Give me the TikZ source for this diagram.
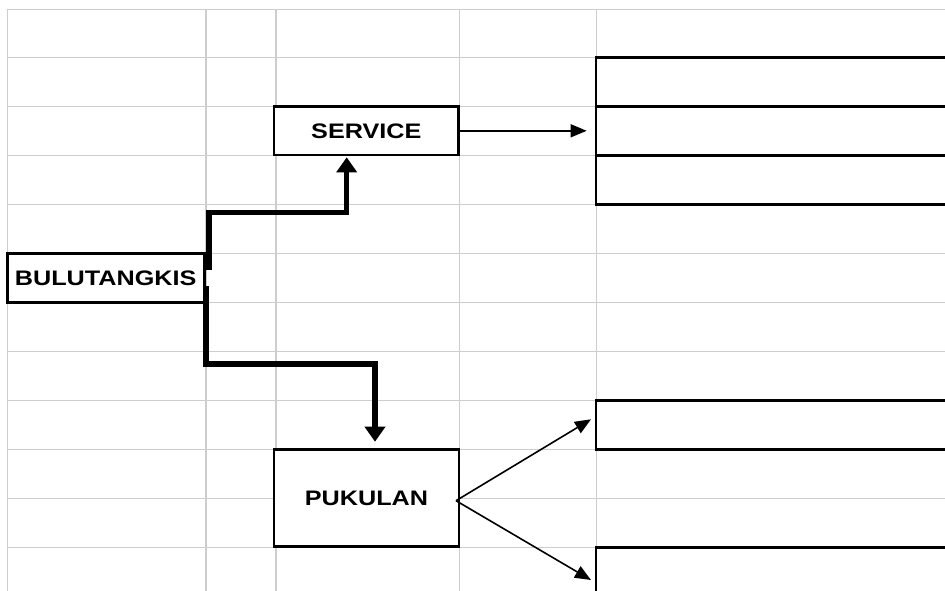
\documentclass[tikz,border=0pt]{standalone}
\usepackage{fontspec}
\setmainfont{Liberation Sans}
\usetikzlibrary{arrows.meta}
\definecolor{gridgray}{RGB}{205,205,205}
\tikzset{
  gridline/.style={draw=gridgray, line width=1.4pt},
  cellbox/.style={draw=black, line width=2.7pt, fill=white, inner sep=0pt, font=\fontsize{21}{24}\selectfont\bfseries},
  bigconn/.style={draw=black, line width=5.5pt, -{Triangle[width=20pt,length=15pt]}},
  thinconn/.style={draw=black, line width=1.6pt, -{Triangle[width=13pt,length=16pt]}}
}
\newcommand{\wideText}[1]{\scalebox{1.2}[1]{#1}}
\begin{document}
\begin{tikzpicture}[x=1pt,y=-1pt]
\useasboundingbox (0,0) rectangle (945,590);
\clip (0,0) rectangle (945,590);
\fill[white] (0,0) rectangle (945,590);
% grid
\foreach \yy in {9.3,57.3,106.4,155.4,204.4,253.4,302.4,351.6,400.6,449.4,498.3,547.3}
  \draw[gridline] (7.3,\yy) -- (950,\yy);
\foreach \xx in {7.3,206,276,459.5,596.5}
  \draw[gridline] (\xx,9.3) -- (\xx,600);
% nodes
\node[cellbox, minimum width=197pt, minimum height=49pt] (bulu) at (105.7,277.8) {\wideText{BULUTANGKIS}};
\node[cellbox, minimum width=184.5pt, minimum height=48.5pt] (service) at (366.3,130.8) {\wideText{SERVICE}};
\node[cellbox, minimum width=185pt, minimum height=97.5pt] (pukulan) at (366.5,498) {\wideText{PUKULAN}};
\node[cellbox, minimum width=364pt, minimum height=49pt] (r1) at (778,81.8) {};
\node[cellbox, minimum width=364pt, minimum height=49pt] (r2) at (778,130.8) {};
\node[cellbox, minimum width=364pt, minimum height=49pt] (r3) at (778,179.8) {};
\node[cellbox, minimum width=364pt, minimum height=48.6pt] (r4) at (778,425) {};
\node[cellbox, minimum width=364pt, minimum height=52.7pt] (r5) at (778,573.6) {};
% connector points
\coordinate (upstart) at (209,270);
\coordinate (upin) at (346.7,157.3);
\coordinate (downstart) at (206,286);
\coordinate (downin) at (375,441.7);
\coordinate (pout) at (456,500.7);
\coordinate (r4in) at (591,419.3);
\coordinate (r5in) at (591,580);
% thick connectors
\draw[bigconn] (upstart) -- (upstart |- 0,212.5) -| (upin);
\draw[bigconn] (downstart) -- (downstart |- 0,364) -| (downin);
% thin arrows
\draw[thinconn] (service.east) -- ([xshift=-8pt]r2.west);
\draw[thinconn] (pout) -- (r4in);
\draw[thinconn] (pout) -- (r5in);
\end{tikzpicture}
\end{document}
